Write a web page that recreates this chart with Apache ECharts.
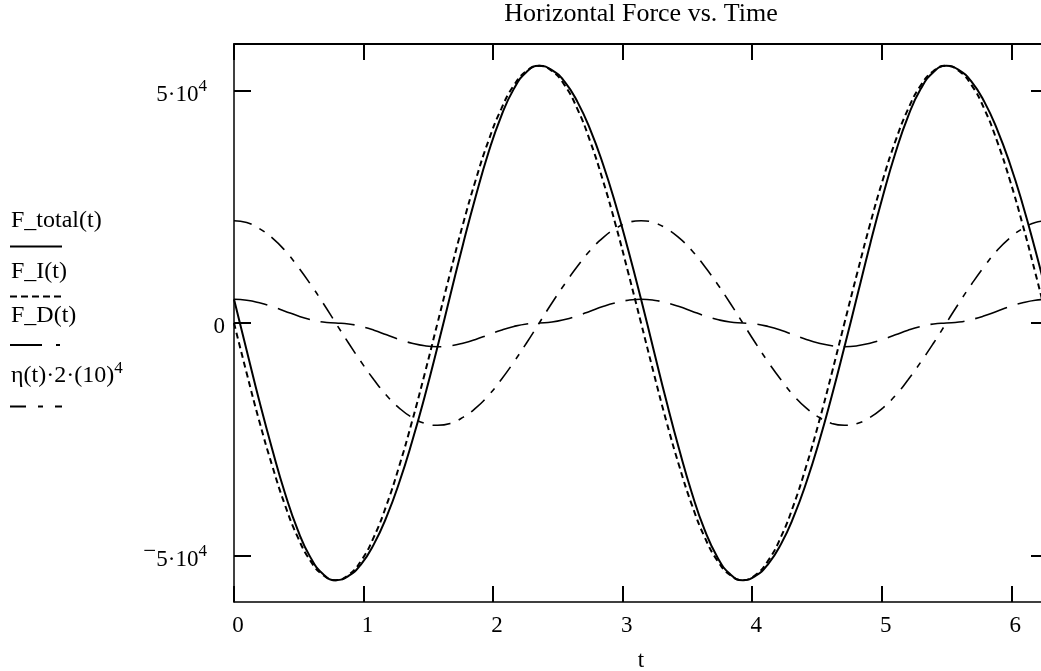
<!DOCTYPE html>
<html><head><meta charset="utf-8">
<script src="https://cdn.jsdelivr.net/npm/echarts@6/dist/echarts.min.js"></script>
<style>html,body{margin:0;padding:0;background:#fff}#c{width:1041px;height:671px}</style>
</head><body><div id="c"></div>
<script>
// time samples (t)
const t = [0, 0.098, 0.196, 0.295, 0.393, 0.491, 0.589, 0.687, 0.785, 0.884, 0.982, 1.080, 1.178, 1.276, 1.374, 1.473, 1.571,
  1.669, 1.767, 1.865, 1.963, 2.062, 2.160, 2.258, 2.356, 2.454, 2.553, 2.651, 2.749, 2.847, 2.945, 3.043, 3.142,
  3.240, 3.338, 3.436, 3.534, 3.632, 3.731, 3.829, 3.927, 4.025, 4.123, 4.222, 4.320, 4.418, 4.516, 4.614, 4.712,
  4.811, 4.909, 5.007, 5.105, 5.203, 5.301, 5.400, 5.498, 5.596, 5.694, 5.792, 5.890, 5.989, 6.087, 6.185, 6.283];
// F_total(t)
const fTotal = [5100, -5900, -16850, -27150, -36550, -44450, -50350, -54000, -55300, -54400, -51850, -47550, -41650, -34250, -25550, -15700, -5100,
  5900, 16850, 27150, 36550, 44450, 50350, 54000, 55300, 54400, 51850, 47550, 41650, 34250, 25550, 15700, 5100,
  -5900, -16850, -27150, -36550, -44450, -50350, -54000, -55300, -54400, -51850, -47550, -41650, -34250, -25550, -15700, -5100,
  5900, 16850, 27150, 36550, 44450, 50350, 54000, 55300, 54400, 51850, 47550, 41650, 34250, 25550, 15700, 5100];
// F_I(t)
const fI = [0, -10800, -21200, -30700, -39100, -46000, -51100, -54200, -55300, -54200, -51100, -46000, -39100, -30700, -21200, -10800, 0,
  10800, 21200, 30700, 39100, 46000, 51100, 54200, 55300, 54200, 51100, 46000, 39100, 30700, 21200, 10800, 0,
  -10800, -21200, -30700, -39100, -46000, -51100, -54200, -55300, -54200, -51100, -46000, -39100, -30700, -21200, -10800, 0,
  10800, 21200, 30700, 39100, 46000, 51100, 54200, 55300, 54200, 51100, 46000, 39100, 30700, 21200, 10800, 0];
// F_D(t)
const fD = [5100, 4900, 4350, 3550, 2550, 1550, 750, 200, 0, -200, -750, -1550, -2550, -3550, -4350, -4900, -5100,
  -4900, -4350, -3550, -2550, -1550, -750, -200, 0, 200, 750, 1550, 2550, 3550, 4350, 4900, 5100,
  4900, 4350, 3550, 2550, 1550, 750, 200, 0, -200, -750, -1550, -2550, -3550, -4350, -4900, -5100,
  -4900, -4350, -3550, -2550, -1550, -750, -200, 0, 200, 750, 1550, 2550, 3550, 4350, 4900, 5100];
// eta(t)*2*10^4
const eta = [22000, 21600, 20300, 18300, 15600, 12200, 8400, 4300, 0, -4300, -8400, -12200, -15600, -18300, -20300, -21600, -22000,
  -21600, -20300, -18300, -15600, -12200, -8400, -4300, 0, 4300, 8400, 12200, 15600, 18300, 20300, 21600, 22000,
  21600, 20300, 18300, 15600, 12200, 8400, 4300, 0, -4300, -8400, -12200, -15600, -18300, -20300, -21600, -22000,
  -21600, -20300, -18300, -15600, -12200, -8400, -4300, 0, 4300, 8400, 12200, 15600, 18300, 20300, 21600, 22000];

const xTicks = [0, 1, 2, 3, 4, 5, 6];
const xTickLabels = ['0', '1', '2', '3', '4', '5', '6'];
const yTicks = [-50000, 0, 50000];
const yTickLabels = ['\u22125\u00b710^4', '0', '5\u00b710^4'];
const seriesNames = ['F_total(t)', 'F_I(t)', 'F_D(t)', '\u03b7(t)\u00b72\u00b7(10)^4'];
const titleText = 'Horizontal Force vs. Time';
const xName = 't';

const FONT = "'Liberation Serif', 'Times New Roman', serif";
const styles = [
  { type: 'solid', width: 2 },
  { type: [6, 4], width: 2 },
  { type: [34, 11], width: 1.6 },
  { type: [18, 9, 6, 9], width: 1.6 }
];
const legendDash = [null, [7, 4], [32, 14, 4, 10], [16, 12, 5, 12]];
const values = [fTotal, fI, fD, eta];

function supRich(s, forAxis) {
  const p = s.split('^');
  if (p.length === 1) return '{z|' + s + '}';
  let base = p[0], pre = '';
  if (forAxis && base.charAt(0) === '\u2212') { pre = '{m|\u2212}'; base = base.slice(1); }
  return pre + '{b|' + base + '}{' + (forAxis ? 's' : 'ls') + '|' + p[1] + '}';
}

const chart = echarts.init(document.getElementById('c'));
const order = [1, 2, 3, 0];
const series = order.map(i => ({
  name: seriesNames[i],
  type: 'line',
  data: t.map((x, k) => [x, values[i][k]]),
  smooth: true,
  symbol: 'none',
  silent: true,
  clip: true,
  lineStyle: { color: '#000', width: styles[i].width, type: styles[i].type },
  z: i === 0 ? 5 : 3
}));

const legendY = [{ ty: 224, ly: 246.5 }, { ty: 275, ly: 296.5 }, { ty: 319, ly: 345 }, { ty: 375, ly: 406.5 }];
const graphics = [];
seriesNames.forEach((n, i) => {
  graphics.push({
    type: 'text', left: 11, top: legendY[i].ty - 15,
    style: {
      text: supRich(n, false), font: '24px ' + FONT, fill: '#000',
      rich: {
        b: { fontSize: 24, fontFamily: FONT, fill: '#000', padding: [6, 0, 0, 0] },
        ls: { fontSize: 17, fontFamily: FONT, fill: '#000', padding: [0, 0, 9, 0] },
        z: { fontSize: 24, fontFamily: FONT, fill: '#000', padding: [6, 0, 0, 0] }
      }
    }
  });
  const ls = { stroke: '#000', lineWidth: i === 0 ? 2 : 1.8 };
  if (legendDash[i]) ls.lineDash = legendDash[i];
  graphics.push({ type: 'line', shape: { x1: 10, y1: legendY[i].ly, x2: 62, y2: legendY[i].ly }, style: ls });
});

const richY = {
  m: { fontSize: 23, fontFamily: FONT, color: '#000', padding: [0, 0, 7, 0] },
  b: { fontSize: 23, fontFamily: FONT, color: '#000', padding: [8, 0, 0, 0] },
  s: { fontSize: 17, fontFamily: FONT, color: '#000', padding: [0, 18, 8, 0] },
  z: { fontSize: 23, fontFamily: FONT, color: '#000', padding: [8, 0, 0, 0] }
};

chart.setOption({
  backgroundColor: '#fff',
  animation: false,
  title: {
    text: titleText, left: 641, top: 1, padding: 0, textAlign: 'center',
    textStyle: { fontFamily: FONT, fontSize: 26, fontWeight: 'normal', color: '#000' }
  },
  grid: { left: 234, right: -7, top: 44, bottom: 69, outerBoundsMode: 'none' },
  xAxis: [{
    type: 'value', min: 0, max: 6.283, position: 'bottom',
    name: xName, nameLocation: 'middle', nameGap: 47,
    nameTextStyle: { fontFamily: FONT, fontSize: 23, color: '#000' },
    axisLine: { show: true, onZero: false, lineStyle: { color: '#000', width: 1.5 } },
    axisTick: { show: true, inside: true, length: 16, lineStyle: { color: '#000', width: 2 }, customValues: xTicks },
    axisLabel: {
      show: true, customValues: xTicks, margin: 12,
      formatter: v => xTickLabels[xTicks.indexOf(v)],
      fontFamily: FONT, fontSize: 23, color: '#000', padding: [0, 0, 0, 8]
    },
    splitLine: { show: false }
  }, {
    type: 'value', min: 0, max: 6.283, position: 'top',
    axisLine: { show: true, onZero: false, lineStyle: { color: '#000', width: 2 } },
    axisTick: { show: true, inside: true, length: 16, lineStyle: { color: '#000', width: 2 }, customValues: xTicks },
    axisLabel: { show: false },
    splitLine: { show: false }
  }],
  yAxis: [{
    type: 'value', min: -60000, max: 60000, position: 'left',
    axisLine: { show: true, onZero: false, lineStyle: { color: '#000', width: 1.5 } },
    axisTick: { show: true, inside: true, length: 17, lineStyle: { color: '#000', width: 2 }, customValues: yTicks },
    axisLabel: {
      show: true, customValues: yTicks, margin: 9,
      formatter: v => supRich(yTickLabels[yTicks.indexOf(v)], true),
      rich: richY
    },
    splitLine: { show: false }
  }, {
    type: 'value', min: -60000, max: 60000, position: 'right',
    axisLine: { show: true, onZero: false, lineStyle: { color: '#000', width: 1.5 } },
    axisTick: { show: true, inside: true, length: 17, lineStyle: { color: '#000', width: 2 }, customValues: yTicks },
    axisLabel: { show: false },
    splitLine: { show: false }
  }],
  graphic: graphics,
  series: series
});
</script></body></html>
